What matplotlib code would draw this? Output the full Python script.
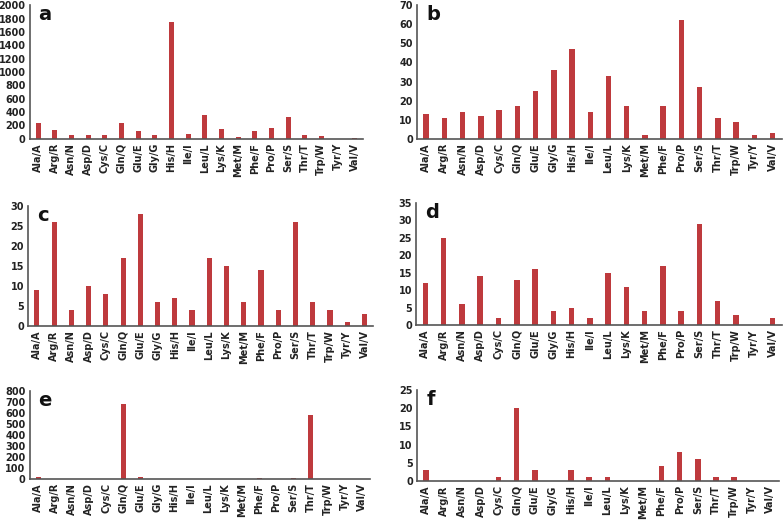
import matplotlib
matplotlib.use("Agg")
import matplotlib.pyplot as plt
import numpy as np

labels = ["Ala/A", "Arg/R", "Asn/N", "Asp/D", "Cys/C", "Gln/Q", "Glu/E", "Gly/G", "His/H", "Ile/I",
          "Leu/L", "Lys/K", "Met/M", "Phe/F", "Pro/P", "Ser/S", "Thr/T", "Trp/W", "Tyr/Y", "Val/V"]

vals_a = [240, 130, 60, 60, 50, 230, 120, 60, 1750, 70, 350, 140, 30, 120, 160, 320, 60, 40, 0, 20]
vals_b = [13, 11, 14, 12, 15, 17, 25, 36, 47, 14, 33, 17, 2, 17, 62, 27, 11, 9, 2, 3]
vals_c = [9, 26, 4, 10, 8, 17, 28, 6, 7, 4, 17, 15, 6, 14, 4, 26, 6, 4, 1, 3]
vals_d = [12, 25, 6, 14, 2, 13, 16, 4, 5, 2, 15, 11, 4, 17, 4, 29, 7, 3, 0, 2]
vals_e = [15, 0, 0, 0, 0, 680, 15, 0, 0, 0, 0, 0, 0, 5, 0, 5, 580, 0, 0, 0]
vals_f = [3, 0, 0, 0, 1, 20, 3, 0, 3, 1, 1, 0, 0, 4, 8, 6, 1, 1, 0, 0]

# panel: letter, values, y max, y step, axes rect (l, b, w, h)
panels = [
    ("a", vals_a, 2000, 200, (0.038, 0.733, 0.425, 0.257)),
    ("b", vals_b, 70, 10, (0.532, 0.733, 0.465, 0.257)),
    ("c", vals_c, 30, 5, (0.036, 0.373, 0.440, 0.231)),
    ("d", vals_d, 35, 5, (0.531, 0.375, 0.466, 0.235)),
    ("e", vals_e, 800, 100, (0.038, 0.079, 0.434, 0.169)),
    ("f", vals_f, 25, 5, (0.532, 0.075, 0.462, 0.175)),
]

BAR = "#be3a3d"
fig = plt.figure(figsize=(7.84, 5.2), dpi=100)
x = np.arange(len(labels))
for letter, vals, ymax, step, rect in panels:
    ax = fig.add_axes(rect)
    ax.bar(x, vals, width=0.3, color=BAR)
    ax.set_xlim(-0.5, len(labels) - 0.5)
    ax.set_ylim(0, ymax)
    ax.set_yticks(np.arange(0, ymax + 1, step))
    ax.set_xticks(x)
    ax.set_xticklabels(labels, rotation=90, fontsize=7, fontweight="bold", color="#222222")
    for t in ax.get_yticklabels():
        t.set_fontsize(7); t.set_fontweight("bold"); t.set_color("#222222")
    ax.tick_params(length=0, pad=3)
    for s in ["top", "right"]:
        ax.spines[s].set_visible(False)
    for s in ["left", "bottom"]:
        ax.spines[s].set_color("#555555"); ax.spines[s].set_linewidth(1.2)
    ax.text(0.025, 1.0, letter, transform=ax.transAxes, fontsize=14, fontweight="bold",
            va="top", ha="left", color="#111111")

fig.savefig("out.png", dpi=100)
